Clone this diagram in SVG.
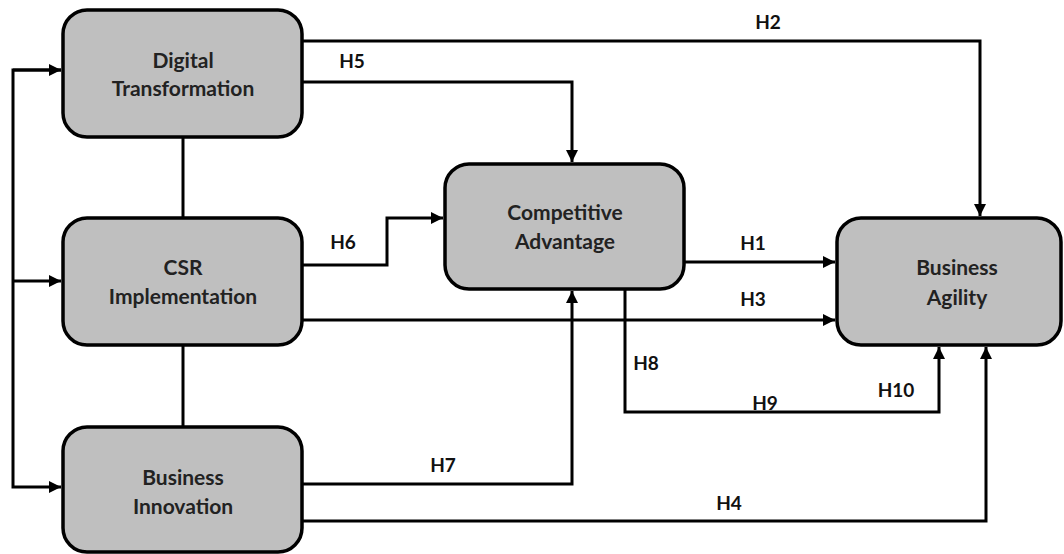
<svg xmlns="http://www.w3.org/2000/svg" width="1064" height="554" viewBox="0 0 1064 554">
<style>
.box{fill:#bfbfbf;stroke:#000;stroke-width:3.5}
.t{font-family:Lato,"Liberation Sans",sans-serif;font-weight:bold;font-size:21px;fill:#222;text-anchor:middle}
.l{font-family:Lato,"Liberation Sans",sans-serif;font-weight:bold;font-size:19px;fill:#111;text-anchor:middle}
.c{fill:none;stroke:#000;stroke-width:3}
</style>
<defs>
<marker id="a" viewBox="0 0 10 10" refX="10" refY="5" markerWidth="4" markerHeight="4" orient="auto" markerUnits="strokeWidth">
<path d="M0,0 L10,5 L0,10 z" fill="#000"/>
</marker>
</defs>
<rect width="1064" height="554" fill="#fff"/>
<g id="connectors">
<path class="c" d="M61,70 H13 V487 H61" marker-end="url(#a)"/>
<path class="c" d="M13,281 H61" marker-end="url(#a)"/>
<path class="c" d="M13,70 H61" marker-end="url(#a)"/>
<path class="c" d="M183,137 V218"/>
<path class="c" d="M183,345 V427"/>
<path class="c" d="M302,41 H980 V216" marker-end="url(#a)"/>
<path class="c" d="M302,82 H572 V162" marker-end="url(#a)"/>
<path class="c" d="M302,265 H387 V218 H443" marker-end="url(#a)"/>
<path class="c" d="M684,262 H835" marker-end="url(#a)"/>
<path class="c" d="M302,320 H835" marker-end="url(#a)"/>
<path class="c" d="M625,289 V412 H939 V347" marker-end="url(#a)"/>
<path class="c" d="M302,484 H572 V291" marker-end="url(#a)"/>
<path class="c" d="M302,521 H986 V347" marker-end="url(#a)"/>
</g>
<g id="labels">
<text class="l" x="768" y="29">H2</text>
<text class="l" x="352" y="68">H5</text>
<text class="l" x="343" y="249">H6</text>
<text class="l" x="753" y="250">H1</text>
<text class="l" x="753" y="306">H3</text>
<text class="l" x="646" y="370">H8</text>
<text class="l" x="765" y="410">H9</text>
<text class="l" x="896" y="397">H10</text>
<text class="l" x="443" y="472">H7</text>
<text class="l" x="729" y="510">H4</text>
</g>
<g id="digital-transformation">
<rect class="box" x="63" y="10" width="239" height="127" rx="24"/>
<text class="t" x="183" y="68">Digital</text>
<text class="t" x="183" y="96">Transformation</text>
</g>
<g id="csr-implementation">
<rect class="box" x="63" y="218" width="239" height="127" rx="24"/>
<text class="t" x="183" y="275">CSR</text>
<text class="t" x="183" y="304">Implementation</text>
</g>
<g id="business-innovation">
<rect class="box" x="63" y="427" width="239" height="125" rx="24"/>
<text class="t" x="183" y="485">Business</text>
<text class="t" x="183" y="514">Innovation</text>
</g>
<g id="competitive-advantage">
<rect class="box" x="445" y="164" width="239" height="125" rx="24"/>
<text class="t" x="565" y="220">Competitive</text>
<text class="t" x="565" y="249">Advantage</text>
</g>
<g id="business-agility">
<rect class="box" x="837" y="218" width="224" height="127" rx="24"/>
<text class="t" x="957" y="275">Business</text>
<text class="t" x="957" y="305">Agility</text>
</g>
</svg>
